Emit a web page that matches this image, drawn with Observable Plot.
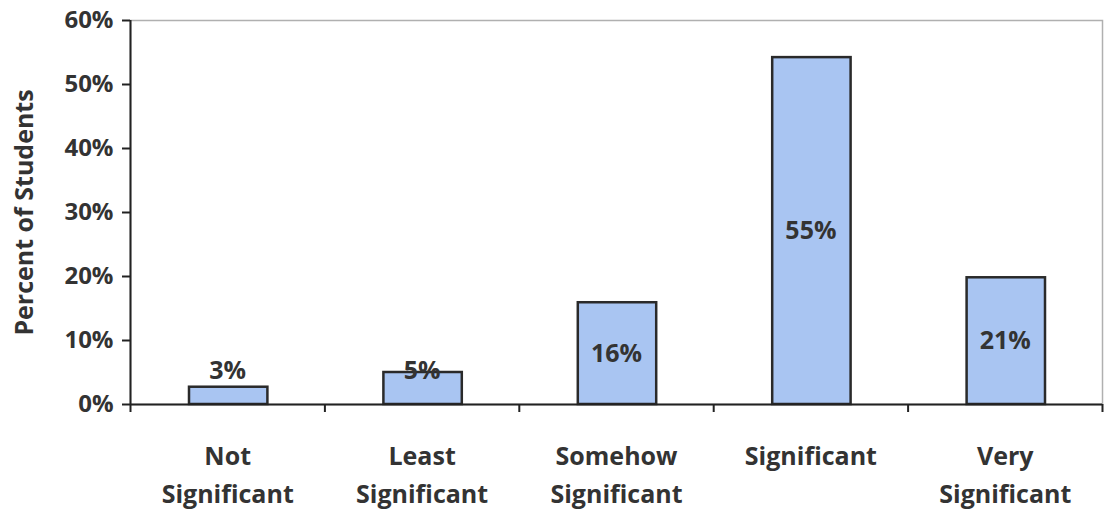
<!DOCTYPE html>
<html>
<head>
<meta charset="utf-8">
<script src="https://cdn.jsdelivr.net/npm/d3@7"></script>
<script src="https://cdn.jsdelivr.net/npm/@observablehq/plot@0.6"></script>
<style>
  html, body { margin: 0; padding: 0; background: #fff; }
  #chart svg { display: block; }
</style>
</head>
<body>
<div id="chart"></div>
<script>
const categories = ["Not\nSignificant", "Least\nSignificant", "Somehow\nSignificant", "Significant", "Very\nSignificant"];
const values = [2.7, 5.0, 15.9, 54.2, 19.8];
const labels = ["3%", "5%", "16%", "55%", "21%"];
const yTicks = [0, 10, 20, 30, 40, 50, 60];

const data = categories.map((c, i) => ({i, category: c, value: values[i], label: labels[i]}));
const boundaries = d3.range(categories.length + 1);

const textColor = "#333";
const chart = Plot.plot({
  width: 1109,
  height: 517,
  marginLeft: 130,
  marginRight: 7,
  marginTop: 20,
  marginBottom: 113,
  style: {fontFamily: "'Open Sans', sans-serif", fontWeight: "bold", color: textColor, background: "#fff"},
  x: {domain: [0, categories.length], axis: null},
  y: {domain: [0, 60], axis: null},
  marks: [
    Plot.frame({stroke: "#b0b0b0", strokeWidth: 1.5}),
    Plot.rectY(data, {x1: "i", x2: d => d.i + 1, y: "value", insetLeft: 59, insetRight: 57, fill: "#a9c5f2", stroke: "#2a2a2a", strokeWidth: 2.5}),
    Plot.ruleY([0], {stroke: "#222", strokeWidth: 2}),
    Plot.ruleX([0], {stroke: "#222", strokeWidth: 2}),
    Plot.axisY(yTicks, {label: null, tickSize: 8, tickPadding: 9, tickFormat: d => d + "%", fontSize: 24, stroke: "#222", strokeWidth: 2, fill: textColor}),
    Plot.axisX(boundaries, {label: null, tickSize: 8, tickFormat: () => "", stroke: "#222", strokeWidth: 2}),
    Plot.text(data, {x: d => d.i + 0.5, text: "category", frameAnchor: "bottom", lineAnchor: "top", dy: 34, lineHeight: 1.52, fontSize: 25, fill: textColor}),
    Plot.text(data, {x: d => d.i + 0.5, y: d => Math.max(d.value / 2, 5.2), text: "label", fontSize: 25, fill: textColor}),
    Plot.text(["Percent of Students"], {frameAnchor: "left", textAnchor: "middle", dx: -106, rotate: -90, fontSize: 25, fill: textColor})
  ]
});
document.getElementById("chart").appendChild(chart);
</script>
</body>
</html>
